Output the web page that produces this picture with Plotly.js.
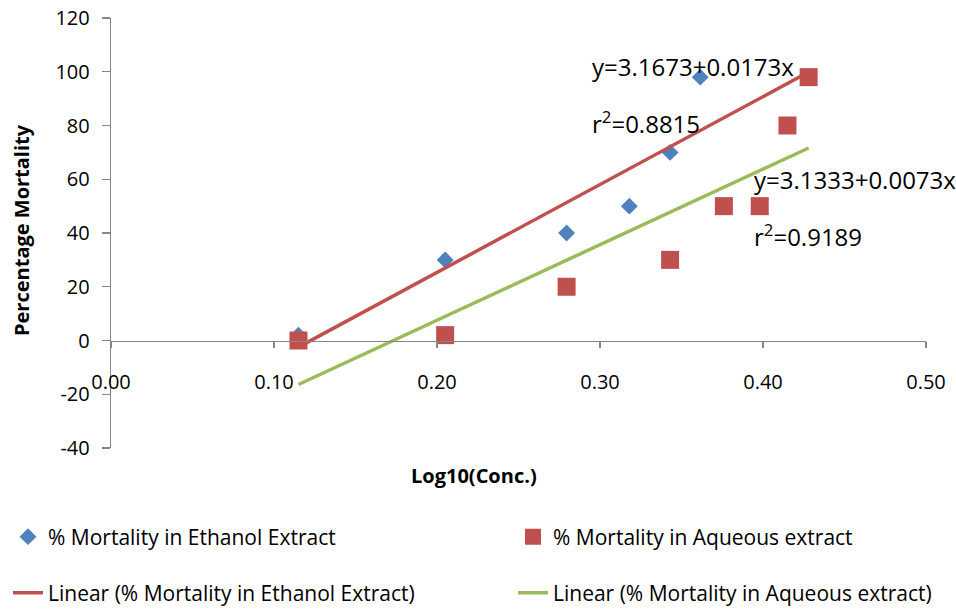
<!DOCTYPE html>
<html>
<head>
<meta charset="utf-8">
<script src="https://cdn.plot.ly/plotly-3.0.1.min.js"></script>
<style>html,body{margin:0;padding:0;background:#fff;}#chart{width:956px;height:610px;}</style>
</head>
<body>
<div id="chart"></div>
<script>
// Data
const ethanolX = [0.115, 0.205, 0.2795, 0.318, 0.343, 0.3615];
const ethanolY = [2, 30, 40, 50, 70, 98];
const aqueousX = [0.115, 0.205, 0.2795, 0.343, 0.376, 0.398, 0.415, 0.428];
const aqueousY = [0, 2, 20, 30, 50, 50, 80, 98];
const seriesNames = ['% Mortality in Ethanol Extract', '% Mortality in Aqueous extract'];
const eqLabels = ['y=3.1673+0.0173x', 'r<sup>2</sup>=0.8815', 'y=3.1333+0.0073x', 'r<sup>2</sup>=0.9189'];
const xTitle = 'Log10(Conc.)';
const yTitle = 'Percentage Mortality';
const xTickVals = [0, 0.1, 0.2, 0.3, 0.4, 0.5];
const xTickText = ['0.00', '0.10', '0.20', '0.30', '0.40', '0.50'];
const yTickVals = [-40, -20, 0, 20, 40, 60, 80, 100, 120];
const yTickText = ['-40', '-20', '0', '20', '40', '60', '80', '100', '120'];

function linreg(xs, ys) {
  const n = xs.length;
  const mx = xs.reduce((a, b) => a + b, 0) / n;
  const my = ys.reduce((a, b) => a + b, 0) / n;
  let sxy = 0, sxx = 0;
  for (let i = 0; i < n; i++) { sxy += (xs[i] - mx) * (ys[i] - my); sxx += (xs[i] - mx) ** 2; }
  const m = sxy / sxx;
  return { m: m, b: my - m * mx };
}
const allX = ethanolX.concat(aqueousX);
const lineX = [Math.min(...allX), Math.max(...allX)];
const fe = linreg(ethanolX, ethanolY);
const fa = linreg(aqueousX, aqueousY);

const FONT = 'Open Sans, sans-serif';
const BLUE = '#4F81BD', RED = '#C0504D', GREEN = '#9BBB59', AXIS = '#868686';

const traces = [
  { x: ethanolX, y: ethanolY, mode: 'markers', name: seriesNames[0],
    marker: { symbol: 'diamond', color: BLUE, size: 13 }, legend: 'legend' },
  { x: aqueousX, y: aqueousY, mode: 'markers', name: seriesNames[1],
    marker: { symbol: 'square', color: RED, size: 18 }, legend: 'legend2' },
  { x: lineX, y: lineX.map(v => fe.m * v + fe.b), mode: 'lines', name: 'Linear (' + seriesNames[0] + ')',
    line: { color: RED, width: 3.5 }, legend: 'legend3', hoverinfo: 'skip' },
  { x: lineX, y: lineX.map(v => fa.m * v + fa.b), mode: 'lines', name: 'Linear (' + seriesNames[1] + ')',
    line: { color: GREEN, width: 3.5 }, legend: 'legend4', hoverinfo: 'skip' }
];

function mkLegend(xpx, ypx) {
  return {
    xref: 'container', yref: 'container', x: xpx / 956, y: 1 - ypx / 610,
    xanchor: 'left', yanchor: 'middle', orientation: 'v',
    font: { family: FONT, size: 21, color: '#000' }, bgcolor: 'rgba(0,0,0,0)', borderwidth: 0
  };
}

const layout = {
  width: 956, height: 610,
  margin: { l: 111, r: 30, t: 18, b: 162, autoexpand: false },
  paper_bgcolor: '#fff', plot_bgcolor: '#fff',
  font: { family: FONT, color: '#000' },
  showlegend: true,
  legend: mkLegend(8, 537),
  legend2: mkLegend(513, 537),
  legend3: mkLegend(8, 593),
  legend4: mkLegend(513, 593),
  xaxis: {
    range: [0, 0.5], tickvals: xTickVals, ticktext: xTickText,
    anchor: 'free', position: 0.25, automargin: false,
    showline: true, linecolor: AXIS, linewidth: 1.3,
    ticks: 'outside', ticklen: 6, tickcolor: AXIS, tickwidth: 1.3,
    ticklabelstandoff: 17,
    showgrid: false, zeroline: false,
    tickfont: { family: FONT, size: 20, color: '#000' }
  },
  yaxis: {
    range: [-40, 120], tickvals: yTickVals, ticktext: yTickText, automargin: false,
    showline: true, linecolor: AXIS, linewidth: 1.3,
    ticks: 'outside', ticklen: 8, tickcolor: AXIS, tickwidth: 1.3,
    ticklabelstandoff: 8,
    showgrid: false, zeroline: false,
    tickfont: { family: FONT, size: 20, color: '#000' }
  },
  annotations: [
    { x: 0.294, y: 102, text: eqLabels[0] },
    { x: 0.294, y: 81, text: eqLabels[1] },
    { x: 0.393, y: 60, text: eqLabels[2] },
    { x: 0.393, y: 39, text: eqLabels[3] }
  ].map(a => Object.assign(a, { xref: 'x', yref: 'y', xanchor: 'left', yanchor: 'middle', showarrow: false,
      font: { family: FONT, size: 24, color: '#000' } })).concat([
    { xref: 'paper', yref: 'paper', x: (474 - 111) / 815, y: -(475 - 448) / 430, xanchor: 'center', yanchor: 'middle',
      showarrow: false, text: xTitle, font: { family: FONT, size: 20, color: '#000', weight: 'bold' } },
    { xref: 'paper', yref: 'paper', x: (22 - 111) / 815, y: (448 - 230) / 430, xanchor: 'center', yanchor: 'middle',
      textangle: -90, showarrow: false, text: yTitle, font: { family: FONT, size: 20, color: '#000', weight: 'bold' } }
  ])
};

Plotly.newPlot('chart', traces, layout, { displayModeBar: false, staticPlot: true });
</script>
</body>
</html>
